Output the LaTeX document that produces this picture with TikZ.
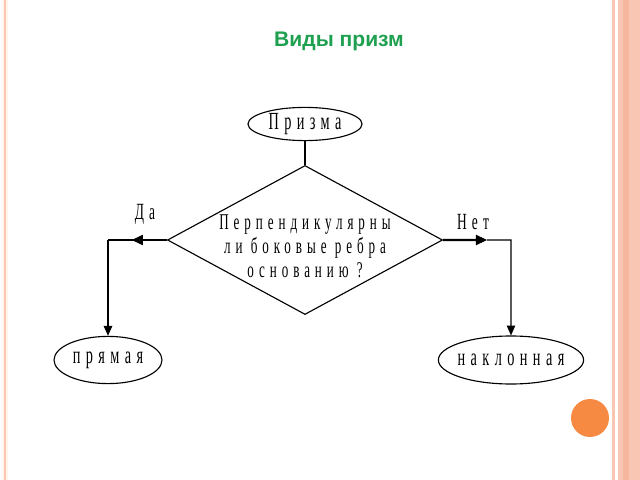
\documentclass[tikz,border=0pt]{standalone}
\usepackage{fontspec}
\setmainfont{Liberation Serif}
\newfontfamily\chartfont{Liberation Serif}[FakeStretch=0.58,LetterSpace=22]
\newfontfamily\titlefont{Liberation Sans}
\usetikzlibrary{shapes.geometric,arrows.meta,decorations.markings,calc}
\definecolor{titlegreen}{RGB}{30,160,80}
\definecolor{bandpink}{RGB}{248,198,178}
\definecolor{banddark}{RGB}{245,182,158}
\definecolor{dotorange}{RGB}{246,138,66}
\newcommand{\nowidth}[1]{\makebox[0pt]{#1}}
\tikzset{
  oval/.style={draw, ellipse, inner sep=0pt, line width=0.8pt, font=\chartfont\fontsize{17.5}{19}\selectfont},
  decision/.style={draw, diamond, inner sep=0pt, line width=0.8pt,
    minimum width=6.875cm, minimum height=3.725cm},
  answer/.style={font=\chartfont\fontsize{16.5}{18}\selectfont},
  tip/.style={-{Triangle[length=7pt,width=6pt]}},
  midarrow/.style={line width=1.6pt, postaction={decorate},
    decoration={markings, mark=at position 0.6 with {\arrow{Triangle[length=8pt,width=7pt]}}}},
}
\begin{document}
\begin{tikzpicture}[x=0.025cm, y=-0.025cm, line width=0.8pt]
\useasboundingbox (0,0) rectangle (640,480);
%%%% slide frame
\fill[orange!8] (2,0) rectangle (8,480);
\draw[bandpink, line width=1.2pt] (5,0) -- (5,480);
\fill[bandpink] (612,0) rectangle (615,480);
\fill[bandpink] (618,0) rectangle (640,480);
\fill[banddark] (623,0) rectangle (629,480);
\fill[dotorange] (590,418) circle (19);
%%%% title
\node[titlegreen, font=\titlefont\bfseries\fontsize{15}{18}\selectfont] (title) at (339,41) {Виды призм};
%%%% nodes
\node[oval, minimum width=2.85cm, minimum height=0.83cm] (prism) at (305,124) {\nowidth{Призма}};
\node[decision] (q) at (305,240) {};
\node[answer, align=center, font=\chartfont\fontsize{16}{17}\selectfont] (qtext) at (305,246)
  {Перпендикулярны\\ли боковые ребра\\основанию ?};
\node[oval, minimum width=2.7cm, minimum height=1.18cm] (yes) at (108,360) {\nowidth{прямая}};
\node[oval, minimum width=3.63cm, minimum height=1.2cm] (no) at (511,360) {\nowidth{наклонная}};
%%%% branch labels
\node[answer] (da) at (145,214) {Да};
\node[answer] (net) at (473,222) {Нет};
%%%% connectors
\coordinate (ycorner) at (yes.north |- q.west);
\coordinate (ncorner) at (no.north |- q.east);
\coordinate (nmid) at ($(q.east)!0.65!(ncorner)$);
\draw (prism) -- (q);
\draw[midarrow] (q.west) -- (ycorner);
\draw[tip] (ycorner) -- (yes.north);
\draw[line width=1.6pt, -{Triangle[length=8pt,width=7pt]}] (q.east) -- (nmid);
\draw[tip] (nmid) -- (ncorner) -- (no.north);
\end{tikzpicture}
\end{document}
